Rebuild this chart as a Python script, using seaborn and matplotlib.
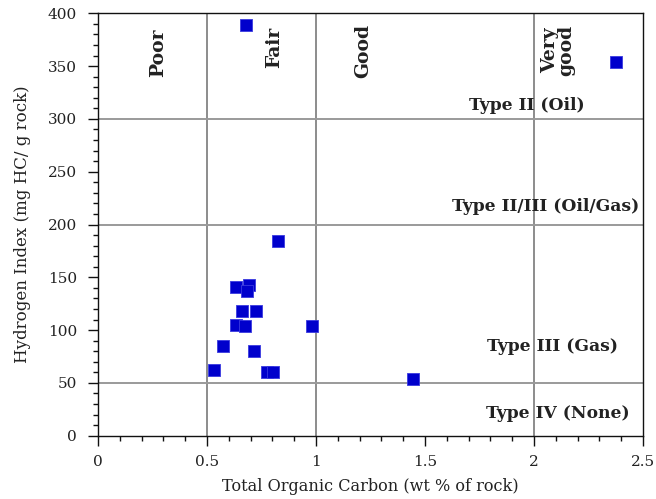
import matplotlib
matplotlib.use("Agg")
import matplotlib.pyplot as plt
from matplotlib.ticker import MultipleLocator
import numpy as np
import pandas as pd
import seaborn as sns

# Total organic carbon (wt %) and hydrogen index (mg HC / g rock) per sample
toc = [0.68, 2.375, 0.826, 0.633, 0.691, 0.682, 0.662, 0.723, 0.633, 0.674,
       0.982, 0.572, 0.716, 0.533, 0.774, 0.804, 1.444]
hi = [389, 354, 184, 140.5, 142.5, 137.5, 118.5, 118.5, 105, 104,
      104, 84.5, 80, 62, 60.5, 60, 54]

# Richness class boundaries (TOC) and kerogen type boundaries (HI)
toc_bounds = [0.5, 1.0, 2.0]
hi_bounds = [300, 200, 50]

richness_labels = ["Poor", "Fair", "Good", "Very\ngood"]
richness_x = [0.275, 0.81, 1.215, 2.11]
richness_y = [363, 368, 364, 365]

kerogen_labels = ["Type II (Oil)", "Type II/III (Oil/Gas)", "Type III (Gas)", "Type IV (None)"]
kerogen_x = [1.966, 2.055, 2.085, 2.108]
kerogen_y = [313, 217, 84.5, 21.5]

sns.set_style("white")
plt.rcParams["font.family"] = ["DejaVu Serif"]

df = pd.DataFrame({"TOC": toc, "HI": hi})

fig = plt.figure(figsize=(6.56, 4.99), dpi=100)
ax = fig.add_axes([0.1494, 0.1268, 0.8308, 0.8465])

for xv in toc_bounds:
    ax.axvline(xv, color="#8c8c8c", lw=1.4, zorder=1)
for yv in hi_bounds:
    ax.axhline(yv, color="#9a9a9a", lw=1.4, zorder=1)

sns.scatterplot(data=df, x="TOC", y="HI", marker="s", s=64, color="#0000CC",
                edgecolor="#3a3ae0", linewidth=0.6, ax=ax, zorder=3)

for lbl, xv, yv in zip(richness_labels, richness_x, richness_y):
    ax.text(xv, yv, lbl, rotation=90, ha="center", va="center", ma="center",
            fontsize=13.5, fontweight="bold", color="#222222", linespacing=0.85)
for lbl, xv, yv in zip(kerogen_labels, kerogen_x, kerogen_y):
    ax.text(xv, yv, lbl, ha="center", va="center",
            fontsize=12.3, fontweight="bold", color="#222222")

ax.set_xlim(0, 2.5)
ax.set_ylim(0, 400)
ax.xaxis.set_major_locator(MultipleLocator(0.5))
ax.xaxis.set_minor_locator(MultipleLocator(0.1))
ax.yaxis.set_major_locator(MultipleLocator(50))
ax.yaxis.set_minor_locator(MultipleLocator(10))
ax.set_xticks(np.arange(0, 2.51, 0.5))
ax.set_xticklabels(["0", "0.5", "1", "1.5", "2", "2.5"])
ax.tick_params(axis="both", which="major", direction="out", length=7, width=1,
               color="#111111", labelsize=11, labelcolor="#222222", pad=7)
ax.tick_params(axis="y", which="major", pad=8)
ax.tick_params(axis="both", which="minor", direction="out", length=3.5, width=1,
               color="#111111")
ax.tick_params(bottom=True, left=True, which="both")

for side in ["left", "bottom", "top", "right"]:
    ax.spines[side].set_visible(True)
    ax.spines[side].set_color("#111111")
    ax.spines[side].set_linewidth(1)

ax.set_xlabel("Total Organic Carbon (wt % of rock)", fontsize=11.6, color="#222222", labelpad=6)
ax.set_ylabel("Hydrogen Index (mg HC/ g rock)", fontsize=12, color="#222222", labelpad=12)

fig.savefig("out.png", dpi=100)
